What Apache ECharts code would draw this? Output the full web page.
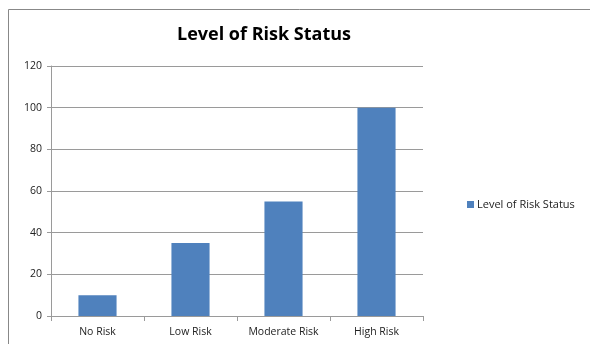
<!DOCTYPE html>
<html>
<head>
<meta charset="utf-8">
<script src="https://cdn.jsdelivr.net/npm/echarts@6/dist/echarts.min.js"></script>
<style>
  html, body { margin: 0; padding: 0; background: #fff; }
  #chart { width: 590px; height: 344px; }
</style>
</head>
<body>
<div id="chart"></div>
<script>
const categories = ['No Risk', 'Low Risk', 'Moderate Risk', 'High Risk'];
const riskValues = [10, 35, 55, 100];
const seriesName = 'Level of Risk Status';
const chartTitle = 'Level of Risk Status';

const chart = echarts.init(document.getElementById('chart'), null, { renderer: 'canvas' });
const labelFont = '"Open Sans", "DejaVu Sans", sans-serif';

chart.setOption({
  animation: false,
  backgroundColor: '#ffffff',
  graphic: [{
    type: 'polyline',
    shape: { points: [[8.5, 344], [8.5, 9.5], [590, 9.5]] },
    style: { stroke: '#888888', lineWidth: 1, fill: null },
    silent: true
  }],
  title: {
    text: chartTitle,
    left: 177,
    top: 26,
    padding: 0,
    textStyle: { fontFamily: labelFont, fontSize: 18, fontWeight: 'bold', color: '#000' }
  },
  legend: {
    left: 462,
    top: 194,
    itemWidth: 7,
    itemHeight: 7,
    itemGap: 4,
    icon: 'rect',
    textStyle: { fontFamily: labelFont, fontSize: 11, color: '#222', padding: [0, 0, 0, -2] },
    data: [seriesName]
  },
  grid: { left: 51, right: 167, top: 66, bottom: 28, containLabel: false },
  xAxis: {
    type: 'category',
    data: categories,
    axisLine: { lineStyle: { color: '#9a9a9a' } },
    axisTick: { show: true, length: 5, lineStyle: { color: '#9a9a9a' } },
    axisLabel: { fontFamily: labelFont, fontSize: 10.5, color: '#222', margin: 11 }
  },
  yAxis: {
    type: 'value',
    min: 0,
    max: 120,
    interval: 20,
    axisLine: { show: true, lineStyle: { color: '#9a9a9a' } },
    axisTick: { show: true, length: 4, lineStyle: { color: '#9a9a9a' } },
    splitLine: { lineStyle: { color: '#9a9a9a' } },
    axisLabel: { fontFamily: labelFont, fontSize: 10.5, color: '#222', margin: 9 }
  },
  series: [{
    name: seriesName,
    type: 'bar',
    data: riskValues,
    barWidth: '41%',
    itemStyle: { color: '#4F81BD' }
  }]
});
</script>
</body>
</html>
